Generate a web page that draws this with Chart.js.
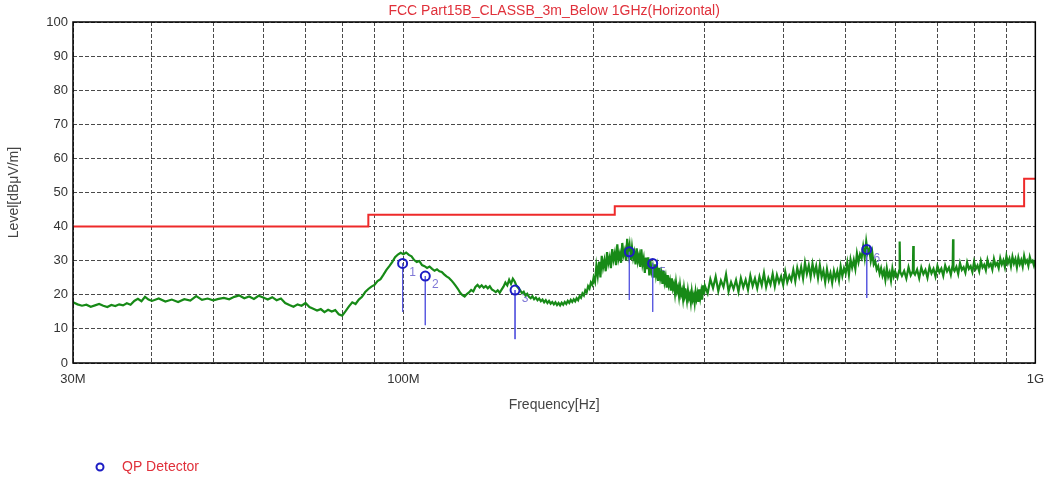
<!DOCTYPE html>
<html>
<head>
<meta charset="utf-8">
<script src="https://cdn.jsdelivr.net/npm/chart.js@4.4.0/dist/chart.umd.min.js"></script>
<style>
body { margin: 0; background: #fff; }
#wrap { width: 1053px; height: 484px; }
</style>
</head>
<body>
<div id="wrap"><canvas id="displayChart" width="1053" height="484"></canvas></div>
<script>
const chartTitle = 'FCC Part15B_CLASSB_3m_Below 1GHz(Horizontal)';
const xTitle = 'Frequency[Hz]';
const yTitle = 'Level[dBμV/m]';
const legendLabel = 'QP Detector';

const xTicks = [30, 40, 50, 60, 70, 80, 90, 100, 200, 300, 400, 500, 600, 700, 800, 900, 1000];
const xTickLabels = { 30: '30M', 100: '100M', 1000: '1G' };
const yTicks = [0, 10, 20, 30, 40, 50, 60, 70, 80, 90, 100];

const limitFreq = [30, 88, 216, 960, 1000];
const limitLevel = [40, 43.5, 46, 54, 54];

const markerNames = ['1', '2', '3', '4', '5', '6'];
const markerFreq = [99.7, 108.3, 150.2, 227.8, 248, 541];
const markerLevel = [29.2, 25.5, 21.4, 32.6, 29.2, 33.3];
const markerFloor = [15.0, 11.1, 7.0, 18.5, 15.0, 19.1];

const traceFreq = [
    30, 30.5, 31, 31.5, 32, 32.5, 33, 33.5, 34, 34.5,
    35, 35.5, 36, 36.5, 37, 37.5, 38, 38.5, 39, 39.5, 40,
    41, 42, 43, 44, 45, 46, 47, 48, 49, 50,
    51, 52, 53, 54, 55, 56, 57, 58, 59, 60,
    61, 62, 63, 64, 65, 66, 67, 68, 69, 70,
    71, 72, 73, 74, 75, 76, 77, 78, 79, 80,
    81, 82, 83, 84, 85, 86, 87, 88,
    89, 90, 91, 92, 93, 94, 95, 96, 97, 98,
    99, 100, 101, 102, 103, 104, 105, 106, 107, 108,
    109, 110, 111, 112, 113, 114, 115, 116, 117, 118,
    119, 120, 121, 122, 123, 124, 125, 126, 127, 128,
    129, 130, 131, 132, 133, 134, 135, 136, 137, 138,
    139, 140, 141, 142, 143, 144, 145, 146, 147, 148,
    149, 150, 151, 152, 153, 154, 155, 156, 157, 158,
    159, 160, 161, 162, 163, 164, 165, 166, 167, 168,
    169, 170, 171, 172, 173, 174, 175, 176, 177, 178,
    179, 180, 181, 182, 183, 184, 185, 186, 187, 188,
    189, 190, 191, 192, 193, 194, 195, 196, 197, 198,
    199, 200,
    201, 202, 203, 204, 205, 206, 207, 208, 209, 210,
    211, 212, 213, 214, 215, 216, 217, 218, 219, 220,
    221, 222, 223, 224, 225, 226, 227, 228, 229, 230,
    231, 232, 233, 234, 235, 236, 237, 238, 239, 240,
    241, 242, 243, 244, 245, 246, 247, 248, 249, 250,
    251, 252, 253, 254, 255, 256, 257, 258, 259, 260,
    261, 262, 263, 264, 265, 266, 267, 268, 269, 270,
    271, 272, 273, 274, 275, 276, 277, 278, 279, 280,
    281, 282, 283, 284, 285, 286, 287, 288, 289, 290,
    291, 292, 293, 294, 295, 296, 297, 298, 299, 300,
    303, 306, 309, 312, 315, 318, 321, 324, 327, 330,
    333, 336, 339, 342, 345, 348, 351, 354, 357, 360,
    363, 366, 369, 372, 375, 378, 381, 384, 387, 390,
    393, 396, 399, 402, 405, 408, 411, 414, 417, 420,
    423, 426, 429, 432, 435, 438, 441, 444, 447, 450,
    453, 456, 459, 462, 465, 468, 471, 474, 477, 480,
    483, 486, 489, 492, 495, 498, 501, 504, 507, 510,
    513, 516, 519, 522, 525, 528, 531, 534, 537, 540,
    543, 546, 549, 552, 555, 558, 561, 564, 567, 570,
    573, 576, 579, 582, 585, 588, 591, 594, 597, 600,
    605, 609, 610, 611, 615, 620, 625, 630, 635, 640,
    641, 642, 645, 650, 655, 660, 665, 670, 675, 680,
    685, 690, 695, 700, 705, 710, 715, 720, 725, 730,
    735, 740, 741, 742, 745, 750, 755, 760, 765, 770,
    775, 780, 785, 790, 795, 800, 805, 810, 815, 820,
    825, 830, 835, 840, 845, 850, 855, 860, 865, 870,
    875, 880, 885, 890, 895, 900, 905, 910, 915, 920,
    925, 930, 935, 940, 945, 950, 955, 960, 965, 970,
    975, 980, 985, 990, 995, 1000
];
const traceLevel = [
    17.8, 17.2, 16.8, 17.1, 16.5, 16.9, 17.3, 16.8, 16.4, 17.0,
    16.7, 17.2, 16.9, 17.5, 17.1, 18.2, 18.8, 18.1, 19.4, 18.6, 18.2,
    18.9, 18.0, 18.6, 17.9, 18.7, 18.3, 19.6, 18.5, 18.9, 18.4,
    18.8, 19.1, 18.7, 19.4, 19.8, 19.0, 19.5, 18.8, 19.7, 19.2,
    18.6, 19.3, 18.4, 18.9, 17.6, 17.0, 16.5, 17.2, 16.8, 17.6,
    16.4, 15.9, 15.4, 15.8, 14.9, 15.6, 15.1, 15.5, 14.3, 13.9,
    15.2, 16.6, 17.8, 17.3, 18.6, 19.4, 20.8, 21.7,
    22.4, 22.9, 24.0, 24.6, 25.9, 27.3, 28.4, 29.6, 31.0, 31.8,
    32.3, 31.9, 32.4, 31.7, 31.3, 30.2, 29.6, 29.9, 28.7, 28.4,
    27.9, 28.3, 27.6, 27.1, 27.5, 26.9, 26.7, 26.0, 25.4, 25.0,
    24.3, 23.5, 22.6, 21.7, 20.6, 19.9, 19.5, 20.2, 20.7, 21.4,
    21.0, 22.3, 22.9, 22.2, 22.8, 22.1, 22.6, 21.9, 22.5, 21.6,
    21.2, 20.8, 21.3, 20.6, 21.5, 22.4, 23.6, 22.8, 24.4, 23.2,
    24.7, 23.9, 22.6, 22.0, 21.4, 20.5, 20.9, 19.8, 20.3, 19.4,
    19.0, 19.6, 18.7, 19.2, 18.4, 18.9, 18.1, 18.6, 17.8, 18.4,
    17.6, 18.2, 17.4, 17.9, 17.2, 17.8, 17.0, 17.6, 16.9, 17.7,
    17.1, 17.9, 17.3, 18.2, 17.6, 18.5, 17.9, 18.7, 18.1, 19.0,
    18.4, 19.6, 19.1, 20.4, 19.8, 21.3, 20.7, 22.5, 21.8, 23.6,
    22.9, 25.1,
    23.8, 28.5, 25.6, 29.7, 25.1, 31.4, 28.0, 30.1, 26.9, 32.5,
    29.2, 31.0, 27.8, 33.4, 30.3, 32.2, 28.7, 34.8, 30.5, 32.1,
    29.4, 35.2, 31.6, 33.0, 30.1, 36.4, 32.0, 34.5, 30.2, 33.9,
    30.8, 32.4, 28.9, 33.6, 29.8, 31.5, 28.2, 33.3, 29.0, 30.7,
    26.4, 30.9, 27.5, 31.0, 25.7, 29.9, 26.8, 28.3, 25.0, 28.9,
    25.8, 28.0, 24.1, 27.9, 24.8, 26.3, 23.2, 27.0, 23.7, 25.3,
    22.1, 25.8, 22.9, 24.2, 21.2, 24.8, 21.9, 23.1, 20.4, 23.6,
    21.0, 22.2, 19.6, 22.7, 20.1, 21.3, 18.8, 21.9, 19.6, 20.5,
    18.3, 21.2, 19.0, 20.1, 17.8, 20.9, 18.6, 19.8, 17.6, 20.8,
    18.8, 20.3, 17.9, 21.6, 19.2, 21.0, 18.6, 22.8, 20.1, 22.6,
    20.4, 24.6, 22.0, 25.3, 21.1, 24.2, 22.3, 26.0, 21.0, 23.7,
    21.7, 24.3, 20.9, 24.9, 22.2, 24.4, 21.5, 25.6, 22.6, 24.8,
    21.9, 25.3, 22.8, 26.4, 22.3, 24.9, 23.0, 26.1, 22.5, 25.8,
    23.6, 25.4, 22.9, 26.8, 23.7, 25.6, 24.2, 27.3, 24.0, 27.9,
    25.4, 28.1, 24.8, 29.4, 26.2, 28.6, 25.3, 29.1, 26.1, 28.4,
    24.9, 28.7, 25.2, 27.1, 23.7, 27.5, 24.5, 26.4, 23.5, 27.0,
    24.8, 26.9, 24.2, 28.3, 25.5, 27.8, 26.3, 29.4, 25.9, 30.3,
    28.0, 30.2, 27.6, 32.1, 29.6, 31.9, 30.8, 34.1, 30.9, 35.6,
    32.3, 33.5, 30.0, 32.4, 28.9, 29.8, 27.4, 28.4, 26.2, 27.8,
    25.6, 27.1, 24.4, 27.8, 25.3, 26.6, 24.2, 27.7, 25.4, 26.8,
    25.0, 27.2, 35.6, 26.8, 25.6, 27.0, 24.8, 28.1, 25.7, 27.0,
    34.3, 26.5, 25.9, 27.4, 24.9, 28.0, 26.1, 27.3, 25.0, 28.2,
    26.3, 27.6, 25.4, 28.5, 26.6, 27.7, 25.6, 28.6, 26.9, 28.0,
    25.9, 28.8, 36.3, 27.6, 27.0, 28.2, 26.1, 29.3, 27.3, 28.1,
    26.5, 29.5, 27.6, 28.4, 26.7, 29.7, 27.6, 28.6, 26.9, 29.9,
    28.0, 28.8, 27.2, 30.2, 28.3, 29.1, 27.4, 30.5, 28.6, 29.3,
    27.8, 30.7, 28.9, 30.1, 28.1, 31.3, 29.3, 30.6, 28.4, 31.2,
    29.2, 30.5, 28.1, 30.9, 29.0, 30.2, 28.3, 31.4, 29.4, 30.1,
    28.5, 31.1, 29.6, 30.0, 28.6, 30.2
];

const fontFamily = '"Liberation Sans", Arial, sans-serif';
Chart.defaults.font.family = fontFamily;

const trace = traceFreq.map((f, i) => ({ x: f, y: traceLevel[i] }));
const limit = limitFreq.map((f, i) => ({ x: f, y: limitLevel[i] }));
const markers = markerFreq.map((f, i) => ({ x: f, y: markerLevel[i] }));
const stems = markerFreq.flatMap((f, i) => [
    { x: f, y: markerLevel[i] },
    { x: f, y: markerFloor[i] },
    { x: f, y: null }
]);

const decorations = {
    id: 'decorations',
    beforeDatasetsDraw(chart) {
        const { ctx, scales: { x, y } } = chart;
        ctx.save();
        ctx.fillStyle = '#7f78d6';
        ctx.font = '12px ' + fontFamily;
        ctx.textAlign = 'center';
        ctx.textBaseline = 'middle';
        markerNames.forEach((name, i) => {
            ctx.fillText(name, x.getPixelForValue(markerFreq[i]) + 10, y.getPixelForValue(markerLevel[i]) + 9);
        });
        ctx.restore();
    },
    afterDraw(chart) {
        const { ctx, chartArea: a } = chart;
        const midX = (a.left + a.right) / 2;
        ctx.save();
        ctx.strokeStyle = '#000';
        ctx.lineWidth = 1.5;
        ctx.strokeRect(a.left, a.top, a.right - a.left, a.bottom - a.top);

        ctx.textAlign = 'center';
        ctx.textBaseline = 'middle';
        ctx.font = '14px ' + fontFamily;
        ctx.fillStyle = '#e0303a';
        ctx.fillText(chartTitle, midX, 11);

        ctx.fillStyle = '#444';
        ctx.fillText(xTitle, midX, 405);

        ctx.fillStyle = '#e0303a';
        ctx.textAlign = 'left';
        ctx.fillText(legendLabel, 122, 467);
        ctx.strokeStyle = '#1d1dc4';
        ctx.lineWidth = 2;
        ctx.beginPath();
        ctx.arc(100, 467, 3.5, 0, Math.PI * 2);
        ctx.stroke();

        ctx.fillStyle = '#444';
        ctx.textAlign = 'center';
        ctx.translate(14, (a.top + a.bottom) / 2);
        ctx.rotate(-Math.PI / 2);
        ctx.fillText(yTitle, 0, 0);
        ctx.restore();
    }
};

const ctx = document.getElementById('displayChart').getContext('2d');
// eslint-disable-next-line no-undef
new Chart(ctx, {
    type: 'line',
    data: {
        datasets: [
            {
                label: 'QP Detector',
                data: markers,
                showLine: false,
                pointStyle: 'circle',
                pointRadius: 4.5,
                pointBorderWidth: 2,
                pointBorderColor: '#1d1dc4',
                pointBackgroundColor: 'rgba(0,0,0,0)'
            },
            {
                label: 'stems',
                data: stems,
                borderColor: '#5c5ce0',
                borderWidth: 1,
                pointRadius: 0,
                spanGaps: false
            },
            {
                label: 'Limit',
                data: limit,
                stepped: true,
                borderColor: '#ee2a2a',
                borderWidth: 2,
                pointRadius: 0
            },
            {
                label: 'Level',
                data: trace,
                borderColor: '#178a17',
                borderWidth: 2.2,
                pointRadius: 0,
                tension: 0
            }
        ]
    },
    options: {
        responsive: false,
        animation: false,
        devicePixelRatio: 1,
        layout: { padding: { left: 0, top: 22, right: 13, bottom: 0 } },
        plugins: {
            legend: { display: false },
            tooltip: { enabled: false },
            title: { display: false }
        },
        scales: {
            x: {
                type: 'logarithmic',
                min: 30,
                max: 1000,
                afterBuildTicks: (scale) => { scale.ticks = xTicks.map(v => ({ value: v })); },
                afterFit: (scale) => { scale.height = 121; },
                grid: { color: '#4a4a4a', lineWidth: 1, drawTicks: false },
                border: { display: false, dash: [4, 2] },
                ticks: {
                    autoSkip: false,
                    maxRotation: 0,
                    padding: 9,
                    color: '#333',
                    font: { size: 13 },
                    callback: (value) => xTickLabels[value] || ''
                }
            },
            y: {
                type: 'linear',
                min: 0,
                max: 100,
                afterBuildTicks: (scale) => { scale.ticks = yTicks.map(v => ({ value: v })); },
                afterFit: (scale) => { scale.width = 73; },
                grid: { color: '#4a4a4a', lineWidth: 1, drawTicks: false },
                border: { display: false, dash: [4, 2] },
                ticks: {
                    padding: 5,
                    color: '#333',
                    font: { size: 13 }
                }
            }
        }
    },
    plugins: [decorations]
});
</script>
</body>
</html>
